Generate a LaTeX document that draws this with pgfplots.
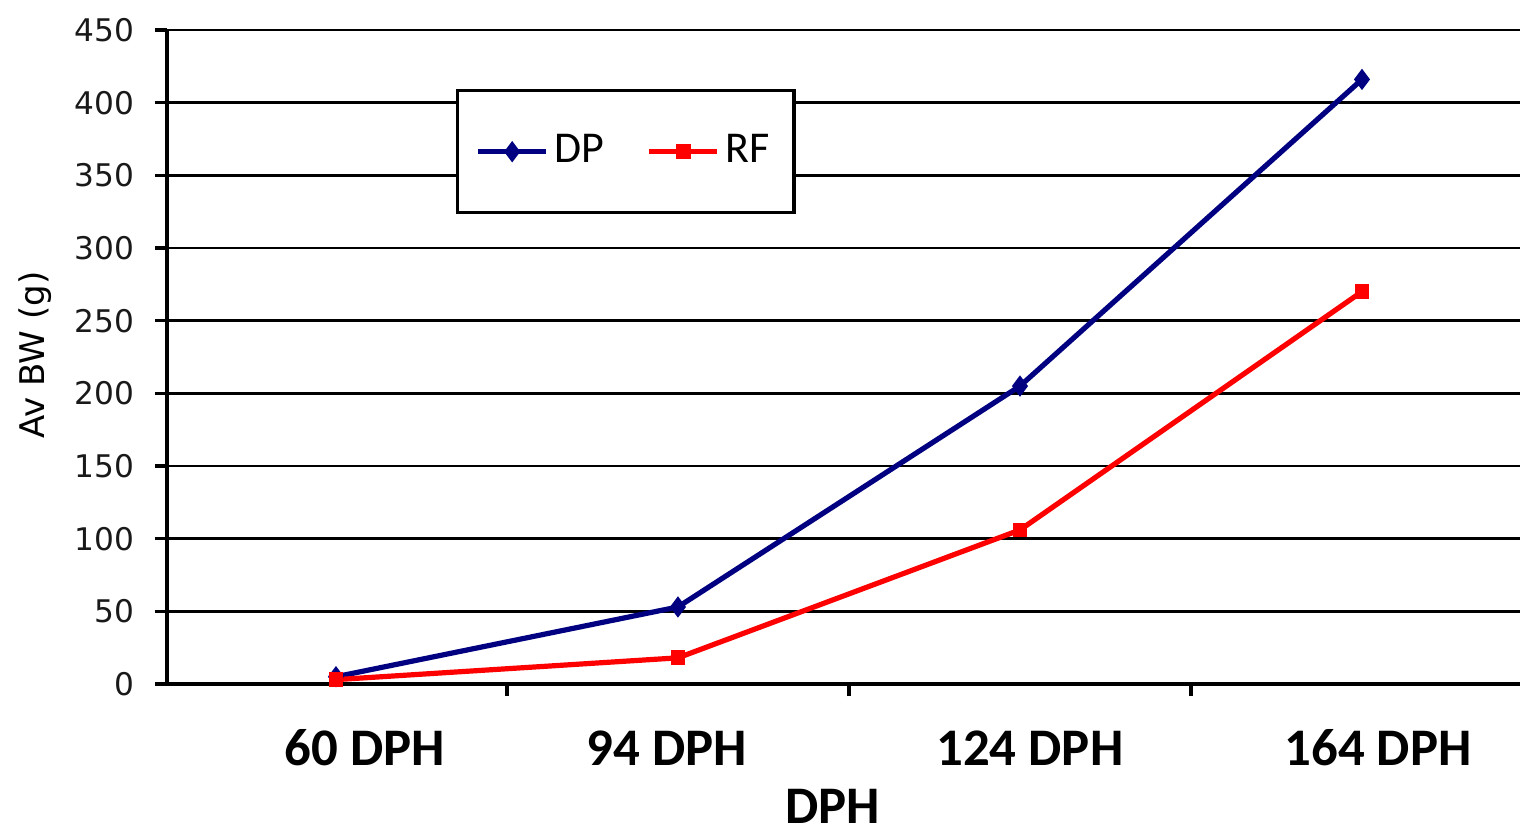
\documentclass[border=0pt]{standalone}
\usepackage{pgfplots}
\pgfplotsset{compat=1.18}
\usepackage{fontspec}
\setmainfont{Carlito}
\newfontfamily\tickfont{DejaVu Sans}
\definecolor{dpblue}{RGB}{0,0,128}
\definecolor{rfred}{RGB}{255,0,0}

\begin{document}
\begin{tikzpicture}
\begin{axis}[
  name=ax,
  at={(0,0)}, anchor=south west,
  scale only axis,
  width=338.25pt, height=163.5pt,
  xmin=-0.494, xmax=3.462,
  ymin=0, ymax=450,
  ytick={0,50,...,450},
  /pgf/number format/assume math mode=true,
  xtick={0.085,0.968,2.029,3.047},
  xticklabels={60 DPH,94 DPH,124 DPH,164 DPH},
  minor xtick={0.5,1.5,2.5},
  major x tick style={draw=none},
  axis x line*=bottom, axis y line*=left,
  axis line style={black, line width=0.8pt, -},
  ymajorgrids, grid style={black, line width=0.7pt},
  tick align=outside,
  tick style={black, line width=0.8pt},
  major tick length=3pt, minor tick length=3pt,
  yticklabel style={font=\tickfont\fontsize{7.8}{9}\selectfont, text=black!90, anchor=east, inner sep=0pt, xshift=-5pt},
  xticklabel style={font=\bfseries\fontsize{13.2}{15}\selectfont, anchor=center, yshift=-13pt, inner sep=0pt},
  ylabel={Av BW (g)},
  ylabel style={font=\tickfont\fontsize{8.5}{10}\selectfont, at={(axis description cs:-0.0976,0.503)}, anchor=center},
  xlabel={DPH},
  xlabel style={font=\bfseries\fontsize{13.2}{15}\selectfont, at={(axis description cs:0.492,0)}, anchor=center, yshift=-30.5pt},
  legend columns=2,
  legend style={at={(axis description cs:0.2136,0.9098)}, anchor=north west,
    draw=black, line width=0.8pt, fill=white,
    inner xsep=4.5pt, inner ysep=9.5pt,
    nodes={inner sep=1.5pt, font=\fontsize{11}{13}\selectfont},
    /tikz/every even column/.append style={column sep=9pt}},
  legend image code/.code={\draw[#1, mark repeat=2, mark phase=2] plot coordinates {(0pt,0pt) (8.5pt,0pt) (17pt,0pt)};},
]
\addplot[color=dpblue, line width=1.3pt, mark=diamond*, mark size=1.6pt]
  coordinates {(0,5) (1,53) (2,205) (3,416)};
\addlegendentry{DP}
\addplot[color=rfred, line width=1.3pt, mark=square*, mark size=1.2pt]
  coordinates {(0,3) (1,18) (2,106) (3,270)};
\addlegendentry{RF}
\end{axis}
\pgfresetboundingbox
\path[use as bounding box] (ax.south west) +(-41.75pt,-37.5pt) rectangle +(338.25pt,171pt);
\end{tikzpicture}
\end{document}
